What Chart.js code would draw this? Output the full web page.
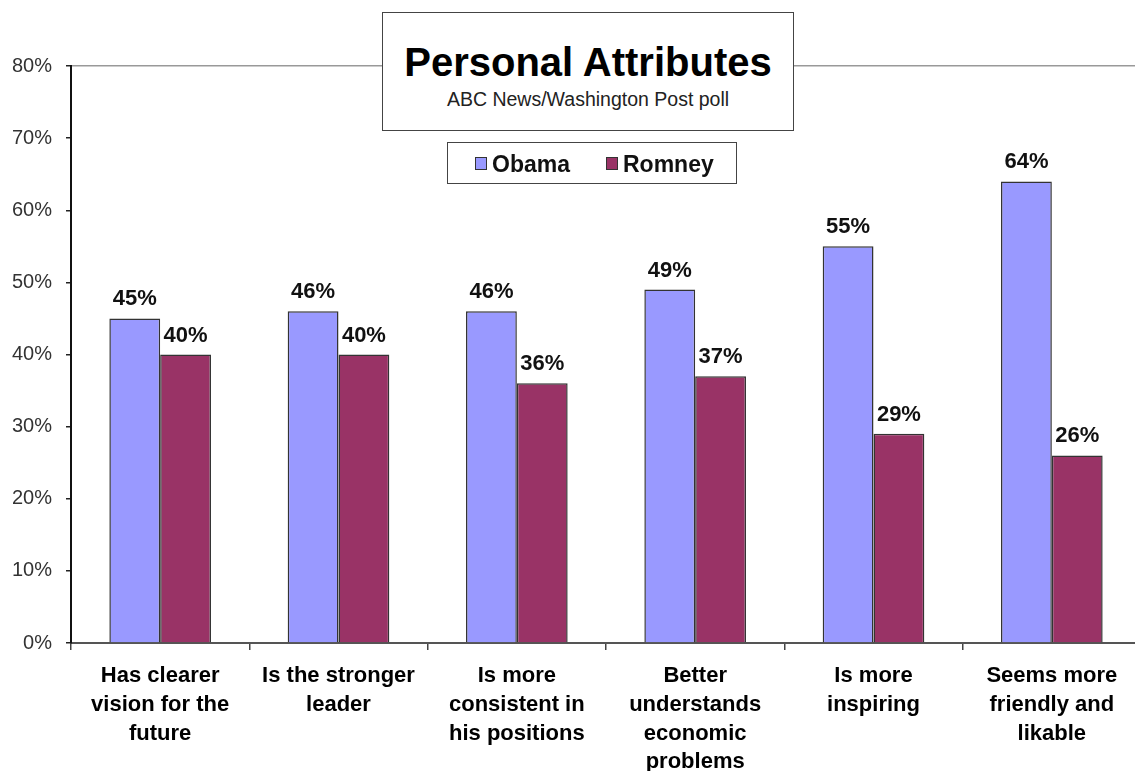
<!DOCTYPE html>
<html lang="en">
  <head>
    <meta charset="UTF-8" />
    <title>Personal Attributes</title>
    <style>
      html,
      body {
        margin: 0;
        padding: 0;
        width: 1135px;
        height: 771px;
        overflow: hidden;
        background: #fff;
        font-family: "Liberation Sans", Arial, sans-serif;
      }
      .wrap {
        position: absolute;
        left: 0;
        top: 0;
        width: 1150px;
        height: 771px;
      }
      .title-box {
        position: absolute;
        left: 382px;
        top: 12px;
        width: 410px;
        height: 117px;
        border: 1.5px solid #444;
        background: #fff;
        text-align: center;
      }
      .title-box h1 {
        margin: 0;
        padding-top: 27px;
        font-size: 40px;
        line-height: 44px;
        font-weight: bold;
        color: #000;
      }
      .title-box p {
        margin: 0;
        margin-top: 4px;
        font-size: 19.5px;
        line-height: 22px;
        color: #222;
      }
      .legend {
        position: absolute;
        left: 447px;
        top: 142px;
        width: 288px;
        height: 40px;
        border: 1.5px solid #444;
        background: #fff;
        margin: 0;
        padding: 0;
        list-style: none;
      }
      .legend li {
        position: absolute;
        top: 8px;
        font-size: 23px;
        line-height: 26px;
        font-weight: bold;
        color: #111;
      }
      .legend li::before {
        content: "";
        position: absolute;
        left: -17px;
        top: 6px;
        width: 10px;
        height: 11px;
        border: 1px solid #333;
        background: var(--swatch);
      }
    </style>
  </head>
  <body>
    <div class="wrap"><canvas id="chart" width="1150" height="771"></canvas></div>
    <div class="title-box">
      <h1>Personal Attributes</h1>
      <p>ABC News/Washington Post poll</p>
    </div>
    <ul class="legend"></ul>
    <script src="https://cdn.jsdelivr.net/npm/chart.js@4.4.1/dist/chart.umd.min.js"></script>
    <script>
      const categories = [
        ["Has clearer", "vision for the", "future"],
        ["Is the stronger", "leader"],
        ["Is more", "consistent in", "his positions"],
        ["Better", "understands", "economic", "problems"],
        ["Is more", "inspiring"],
        ["Seems more", "friendly and", "likable"],
      ];
      const obama = [45, 46, 46, 49, 55, 64];
      const romney = [40, 40, 36, 37, 29, 26];
      const yTicks = [0, 10, 20, 30, 40, 50, 60, 70, 80];

      const series = [
        { label: "Obama", data: obama, color: "#9999ff", left: 44 },
        { label: "Romney", data: romney, color: "#993366", left: 175 },
      ];

      const legend = document.querySelector(".legend");
      for (const s of series) {
        const item = document.createElement("li");
        item.innerText = s.label;
        item.style.left = s.left + "px";
        item.style.setProperty("--swatch", s.color);
        legend.appendChild(item);
      }

      // Percent labels above each bar.
      const barLabels = {
        id: "barLabels",
        afterDatasetsDraw(chart) {
          const ctx = chart.ctx;
          ctx.save();
          ctx.font = "bold 22px 'Liberation Sans', Arial, sans-serif";
          ctx.fillStyle = "#111";
          ctx.textAlign = "center";
          ctx.textBaseline = "alphabetic";
          chart.data.datasets.forEach((ds, i) => {
            chart.getDatasetMeta(i).data.forEach((bar, j) => {
              ctx.fillText(ds.data[j] + "%", bar.x, bar.y - 13);
            });
          });
          ctx.restore();
        },
      };

      new Chart(document.getElementById("chart"), {
        type: "bar",
        data: {
          labels: categories,
          datasets: series.map((s) => ({
            label: s.label,
            data: s.data,
            backgroundColor: s.color,
            borderColor: "#333",
            borderWidth: 1.5,
            borderSkipped: "bottom",
            categoryPercentage: 0.57,
            barPercentage: 1.0,
          })),
        },
        options: {
          responsive: false,
          animation: false,
          devicePixelRatio: 1,
          layout: { padding: { top: 66, right: 9, left: 0, bottom: 0 } },
          plugins: {
            legend: { display: false },
            tooltip: { enabled: false },
          },
          scales: {
            x: {
              offset: true,
              grid: {
                offset: true,
                drawOnChartArea: false,
                tickLength: 7,
                tickColor: "#444",
                lineWidth: 1.5,
              },
              border: { color: "#555", width: 2 },
              ticks: {
                autoSkip: false,
                maxRotation: 0,
                padding: 12,
                color: "#000",
                font: {
                  family: "'Liberation Sans', Arial, sans-serif",
                  size: 22,
                  weight: "bold",
                  lineHeight: 1.3,
                },
              },
              afterFit(scale) {
                scale.height = 128;
              },
            },
            y: {
              min: 0,
              max: 80,
              afterBuildTicks(scale) {
                scale.ticks = yTicks.map((v) => ({ value: v }));
              },
              grid: {
                color: (c) => (c.tick && c.tick.value === 80 ? "#999" : "rgba(0,0,0,0)"),
                lineWidth: 1.5,
                tickLength: 5,
                tickColor: "#222",
              },
              border: { color: "#111", width: 2 },
              ticks: {
                padding: 14,
                color: "#333",
                font: {
                  family: "'Liberation Sans', Arial, sans-serif",
                  size: 20,
                },
                callback: (v) => v + "%",
              },
              afterFit(scale) {
                scale.width = 71;
              },
            },
          },
        },
        plugins: [barLabels],
      });
    </script>
  </body>
</html>
